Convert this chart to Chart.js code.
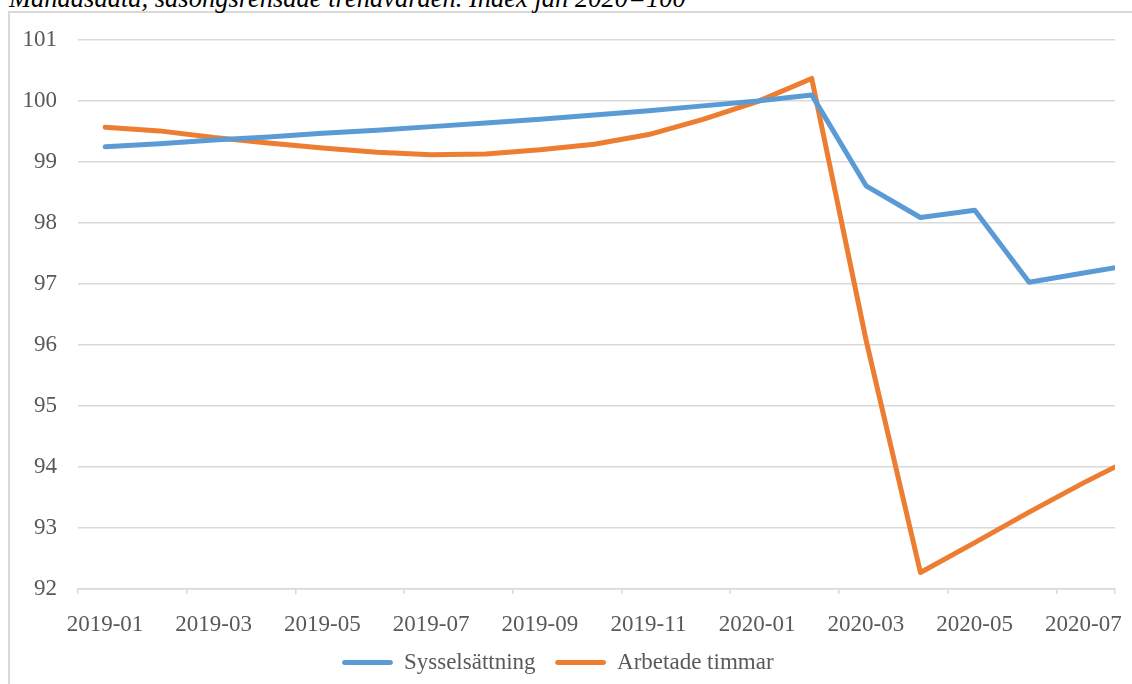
<!DOCTYPE html>
<html>
<head>
<meta charset="utf-8">
<script src="https://cdn.jsdelivr.net/npm/chart.js@4"></script>
<style>
  html, body { margin: 0; padding: 0; background: #fff; overflow: hidden; }
  #wrap { position: relative; width: 1132px; height: 684px; overflow: hidden; }
  #frame { position: absolute; left: 8px; top: 11px; width: 2000px; height: 2000px;
           border-left: 2px solid #d9d9d9; border-top: 2px solid #d9d9d9; }
  #subtitle { position: absolute; left: 9px; top: -15px; font-family: "Liberation Serif", serif;
              font-style: italic; font-size: 26.5px; line-height: 26.5px; color: #000; white-space: nowrap; }
  #chart { position: absolute; left: 0; top: 0; }
</style>
</head>
<body>
<div id="wrap">
  <div id="frame"></div>
  <div id="subtitle">Månadsdata, säsongsrensade trendvärden. Index jan 2020=100</div>
  <canvas id="chart" width="1132" height="684"></canvas>
</div>
<script>
const months = ["2019-01","2019-02","2019-03","2019-04","2019-05","2019-06","2019-07","2019-08",
    "2019-09","2019-10","2019-11","2019-12","2020-01","2020-02","2020-03","2020-04",
    "2020-05","2020-06","2020-07","2020-08"];

const sysselsattning = [99.25, 99.30, 99.36, 99.41, 99.47, 99.52, 99.58, 99.64, 99.70, 99.77,
    99.84, 99.92, 100.00, 100.10, 98.61, 98.09, 98.21, 97.03, 97.18, 97.33];

const arbetadeTimmar = [99.57, 99.51, 99.40, 99.31, 99.23, 99.16, 99.12, 99.13, 99.20, 99.29,
    99.45, 99.70, 99.99, 100.37, 96.08, 92.27, 92.76, 93.26, 93.74, 94.19];

const tickLabels = ["2019-01","2019-03","2019-05","2019-07","2019-09","2019-11",
    "2020-01","2020-03","2020-05","2020-07"];

const yTicks = [92, 93, 94, 95, 96, 97, 98, 99, 100, 101];

const gray = "#d9d9d9";
const textGray = "#595959";
const font = { family: "'Liberation Serif', 'Times New Roman', serif", size: 23 };

const xMin = -0.5;
const xMax = 18.58;

function toPoints(values) {
    return values.map((v, i) => ({ x: i, y: v }));
}

const ctx = document.getElementById("chart").getContext("2d");

const chart = new Chart(ctx, {
    type: "line",
    data: {
        datasets: [
            {
                label: "Sysselsättning",
                data: toPoints(sysselsattning),
                borderColor: "#5b9bd5",
                backgroundColor: "#5b9bd5",
                borderWidth: 5,
                pointRadius: 0,
                tension: 0,
                borderJoinStyle: "round",
                borderCapStyle: "round",
                clip: 0
            },
            {
                label: "Arbetade timmar",
                data: toPoints(arbetadeTimmar),
                borderColor: "#ed7d31",
                backgroundColor: "#ed7d31",
                borderWidth: 5,
                pointRadius: 0,
                tension: 0,
                borderJoinStyle: "round",
                borderCapStyle: "round",
                clip: 0
            }
        ]
    },
    options: {
        responsive: false,
        animation: false,
        layout: {
            padding: { left: 0, right: 16, top: 40, bottom: 0 }
        },
        plugins: {
            tooltip: { enabled: false },
            legend: {
                position: "bottom",
                labels: {
                    color: textGray,
                    font: font,
                    boxWidth: 50,
                    boxHeight: 4,
                    padding: 20,
                    useBorderRadius: true,
                    borderRadius: 2,
                    generateLabels(chart) {
                        const items = Chart.defaults.plugins.legend.labels.generateLabels(chart);
                        items.forEach(it => { it.lineWidth = 1; });
                        return items;
                    }
                }
            }
        },
        scales: {
            x: {
                type: "linear",
                min: xMin,
                max: xMax,
                afterBuildTicks(scale) {
                    const vals = [];
                    for (let v = xMin; v < xMax - 1; v += 2) vals.push(v);
                    vals.push(xMax);
                    scale.ticks = vals.map(v => ({ value: v }));
                },
                afterFit(scale) {
                    scale.height = 42;
                },
                ticks: {
                    autoSkip: false,
                    maxRotation: 0,
                    color: textGray,
                    font: font,
                    padding: 17,
                    labelOffset: 27,
                    callback(value, index) {
                        return tickLabels[index] !== undefined ? tickLabels[index] : "";
                    }
                },
                grid: {
                    drawOnChartArea: false,
                    color: gray,
                    lineWidth: 1.5,
                    tickLength: 5
                },
                border: { color: gray, width: 1.5 }
            },
            y: {
                min: 92,
                max: 101,
                afterBuildTicks(scale) {
                    scale.ticks = yTicks.map(v => ({ value: v }));
                },
                afterFit(scale) {
                    scale.width = 78;
                },
                ticks: {
                    color: textGray,
                    font: font,
                    padding: 21
                },
                grid: {
                    color: gray,
                    lineWidth: 1.5,
                    drawTicks: false
                },
                border: { display: false }
            }
        }
    }
});
</script>
</body>
</html>
